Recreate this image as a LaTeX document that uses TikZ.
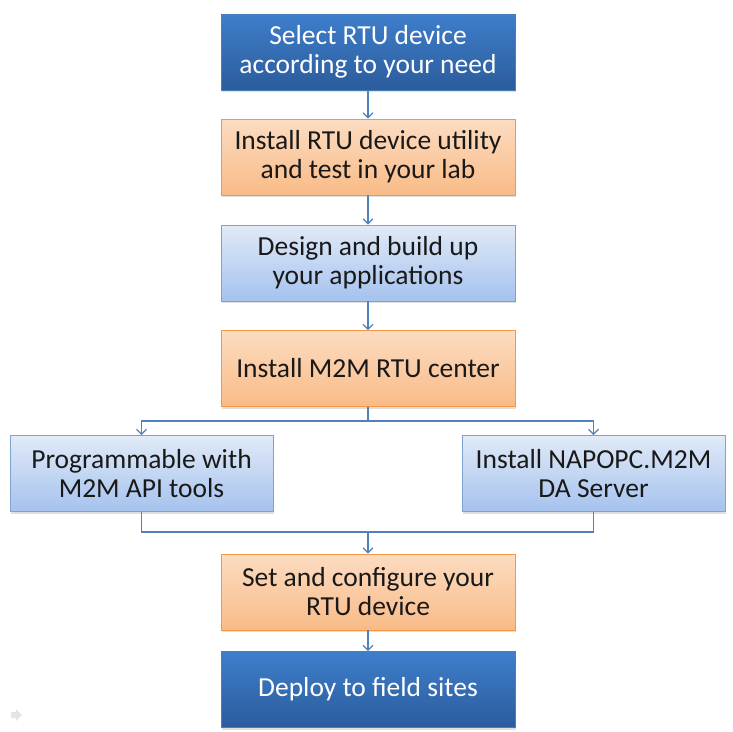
\documentclass[tikz,border=0pt]{standalone}
\usepackage{fontspec}
\setmainfont{Carlito}
\usetikzlibrary{arrows.meta,positioning,shadows}

\definecolor{darkblueA}{HTML}{3E7ECB}
\definecolor{darkblueB}{HTML}{2B5C9C}
\definecolor{darkblueL}{HTML}{4A7EBB}
\definecolor{orangeA}{HTML}{FCDCC1}
\definecolor{orangeB}{HTML}{F9BB87}
\definecolor{orangeL}{HTML}{F79646}
\definecolor{lightA}{HTML}{E1EAF7}
\definecolor{lightB}{HTML}{A5C2EE}
\definecolor{lightL}{HTML}{7FA2D0}
\definecolor{linkcol}{HTML}{4F81BD}

\begin{document}
\begin{tikzpicture}[
		x=1pt, y=-1pt,
		font=\fontsize{27.5}{29}\selectfont,
		box/.style={rectangle, minimum width=294pt, minimum height=76pt,
			align=center, inner sep=2pt, line width=0.8pt,
			drop shadow={shadow xshift=1pt, shadow yshift=-2pt, opacity=0.25}},
		keybox/.style={box, draw=darkblueL, top color=darkblueA, bottom color=darkblueB, text=white},
		workbox/.style={box, draw=orangeL, top color=orangeA, bottom color=orangeB, text=black!90},
		sidebox/.style={box, draw=lightL, top color=lightA, bottom color=lightB, text=black!90},
		link/.style={draw=linkcol, line width=1.2pt},
		linkarrow/.style={link, -{Straight Barb[length=5pt,width=10pt]}},
		]
		\useasboundingbox (0,0) rectangle (733,731);

		% main chain
		\node[keybox] (select) at (368,52) {Select RTU device\\according to your need};
		\node[workbox] (utility) at (368,157) {Install RTU device utility\\and test in your lab};
		\node[sidebox] (design) at (368,263) {Design and build up\\your applications};
		\node[workbox] (center) at (368,368.5) {Install M2M RTU center};

		% the two ways
		\node[sidebox, minimum width=263pt] (api) at (141.5,473.5) {Programmable with\\M2M API tools};
		\node[sidebox, minimum width=263pt] (napopc) at (593.5,473.5) {Install NAPOPC.M2M\\DA Server};

		\node[workbox] (config) at (368,592) {Set and configure your\\RTU device};
		\node[keybox] (deploy) at (368,689.5) {Deploy to field sites};

		\draw[linkarrow] (select) -- (utility);
		\draw[linkarrow] (utility) -- (design);
		\draw[linkarrow] (design) -- (center);
		\draw[link] (center.south) -- ++(0,14) coordinate (split);
		\draw[linkarrow] (split) -| (api.north);
		\draw[linkarrow] (split) -| (napopc.north);
		\coordinate (join) at (368,532);
		\draw[link] (api.south) |- (join) -| (napopc.south);
		\draw[linkarrow] (join) -- (config.north);
		\draw[linkarrow] (config) -- (deploy);

		% slide marker
		\fill[black!10] (16,709) -- (22,715) -- (16,721) -- (16,718) -- (11,718) -- (11,712) -- (16,712) -- cycle;
\end{tikzpicture}
\end{document}
